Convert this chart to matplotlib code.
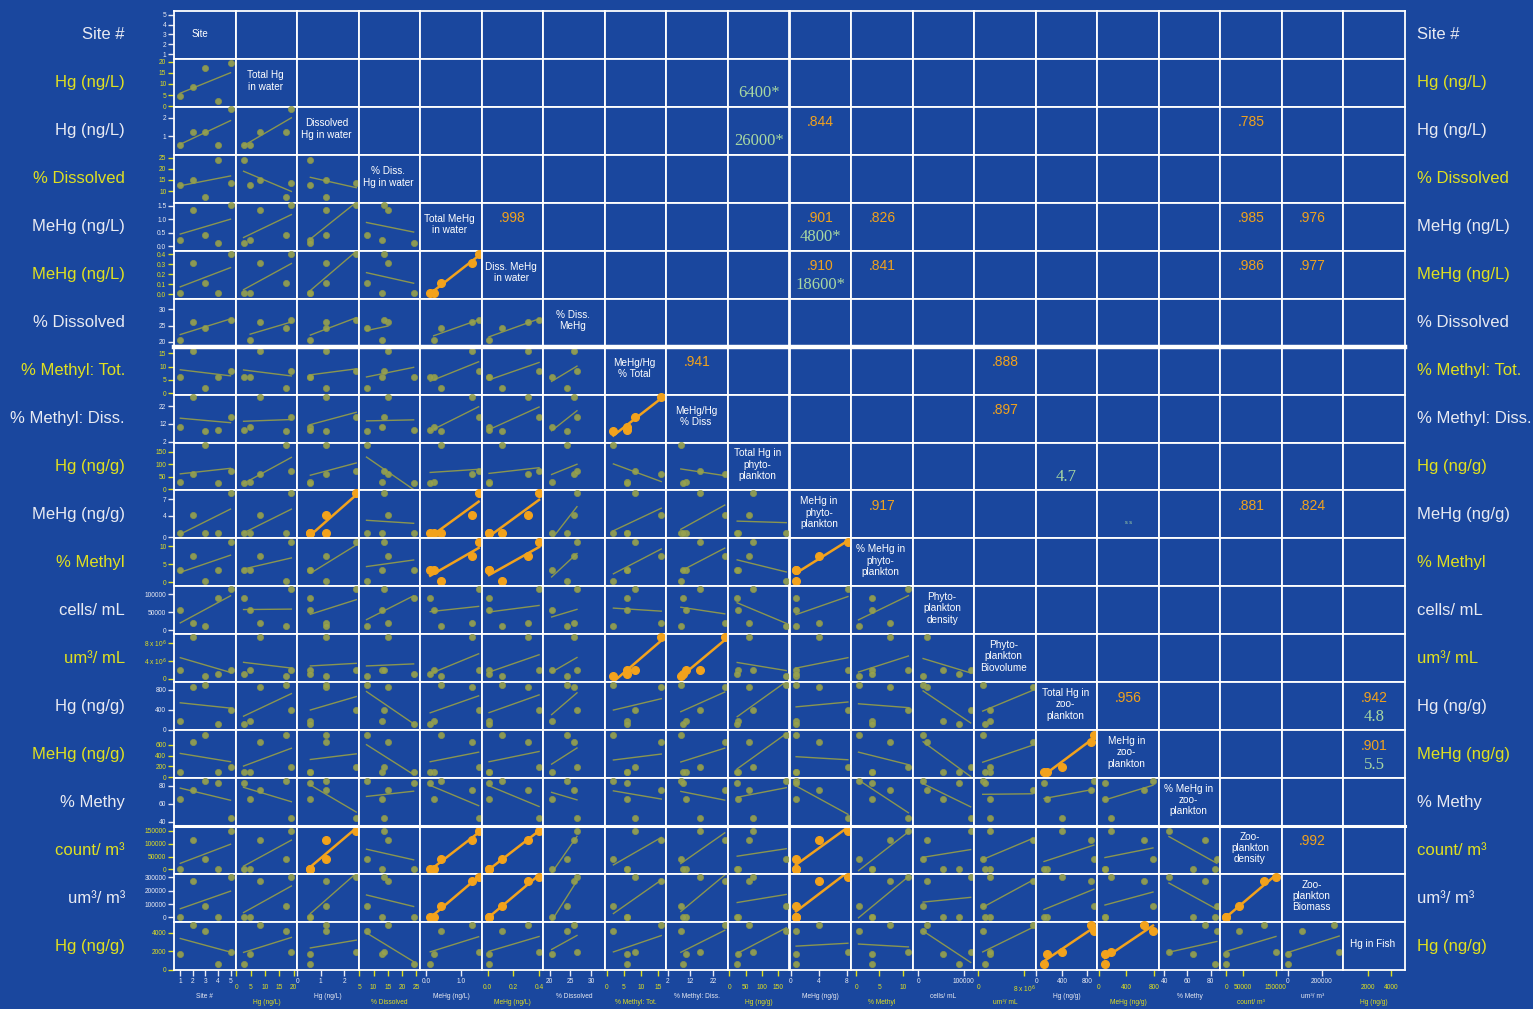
import matplotlib
matplotlib.use('Agg')

import numpy as np
import matplotlib.pyplot as plt
from matplotlib.lines import Line2D

plt.rcParams['font.family'] = ['Liberation Sans', 'DejaVu Sans']

site = [1, 2, 3, 4, 5]
hg_tot = [4.8, 8.4, 17.3, 2.5, 19.2]
hg_diss = [0.56, 1.24, 1.22, 0.56, 2.5]
pct_diss_hg = [12.8, 15.0, 7.5, 24.0, 13.8]
mehg_tot = [0.22, 1.34, 0.43, 0.12, 1.52]
mehg_diss = [0.01, 0.31, 0.11, 0.01, 0.40]
pct_diss_mehg = [20.5, 26.0, 24.3, np.nan, 26.6]
pct_meth_tot = [6.1, 16.0, 2.0, 6.1, 8.2]
pct_meth_diss = [10.0, 27.0, 7.8, 8.7, 16.0]
hg_phyto = [28, 61, 176, 24, 74]
mehg_phyto = [0.75, 4.1, 0.75, 0.75, 8.2]
pct_meth_phyto = [3.4, 7.2, 0.5, 3.4, 11.2]
phyto_density = [55000, 20000, 11000, 90000, 115000]
phyto_biovol = [2.1e6, 9.5e6, 0.75e6, 1.2e6, 2.1e6]
hg_zoo = [167, 853, 900, 120, 400]
mehg_zoo = [93, 660, 784, 93, 185]
pct_meth_zoo = [65, 75.5, 85.5, 83.7, 44]
zoo_density = [0, 115000, 39000, 0, 150000]
zoo_biomass = [0, 270000, 85000, 0, 300000]
hg_fish = [1650, 4800, 4200, 600, 1900]

data = [site, hg_tot, hg_diss, pct_diss_hg, mehg_tot, mehg_diss, pct_diss_mehg,
        pct_meth_tot, pct_meth_diss, hg_phyto, mehg_phyto, pct_meth_phyto,
        phyto_density, phyto_biovol, hg_zoo, mehg_zoo, pct_meth_zoo,
        zoo_density, zoo_biomass, hg_fish]

units = ['Site #', 'Hg (ng/L)', 'Hg (ng/L)', '% Dissolved', 'MeHg (ng/L)', 'MeHg (ng/L)',
         '% Dissolved', '% Methyl: Tot.', '% Methyl: Diss.', 'Hg (ng/g)', 'MeHg (ng/g)',
         '% Methyl', 'cells/ mL', 'um³/ mL', 'Hg (ng/g)', 'MeHg (ng/g)', '% Methy',
         'count/ m³', 'um³/ m³', 'Hg (ng/g)']

diag_names = ['Site', 'Total Hg\nin water', 'Dissolved\nHg in water', '% Diss.\nHg in water',
              'Total MeHg\nin water', 'Diss. MeHg\nin water', '% Diss.\nMeHg',
              'MeHg/Hg\n% Total', 'MeHg/Hg\n% Diss', 'Total Hg in\nphyto-\nplankton',
              'MeHg in\nphyto-\nplankton', '% MeHg in\nphyto-\nplankton',
              'Phyto-\nplankton\ndensity', 'Phyto-\nplankton\nBiovolume',
              'Total Hg in\nzoo-\nplankton', 'MeHg in\nzoo-\nplankton',
              '% MeHg in\nzoo-\nplankton', 'Zoo-\nplankton\ndensity',
              'Zoo-\nplankton\nBiomass', 'Hg in Fish']

lims = [(0.5, 5.4), (-0.3, 21.2), (0, 2.6), (4.75, 26.3), (-0.17, 1.61), (-0.047, 0.433),
        (18.5, 33.3), (-0.5, 17.5), (1.5, 28.4), (-4.6, 186), (-0.2, 8.65), (-1.1, 12.1),
        (-12000, 122600), (-0.75e6, 10.04e6), (-10, 953), (-18, 868), (35.2, 88.5),
        (-18000, 168000), (-35000, 325000), (-50, 5150)]

yticks = [[1, 2, 3, 4, 5], [0, 5, 10, 15, 20], [1, 2], [10, 15, 20, 25], [0, 0.5, 1.0, 1.5],
          [0, 0.1, 0.2, 0.3, 0.4], [20, 25, 30], [0, 5, 10, 15], [2, 12, 22], [0, 50, 100, 150],
          [0, 4, 7], [0, 5, 10], [0, 50000, 100000], [0, 4e6, 8e6], [0, 400, 800],
          [0, 200, 400, 600], [40, 60, 80], [0, 50000, 100000, 150000],
          [0, 100000, 200000, 300000], [0, 2000, 4000]]
ytick_labels = [['1', '2', '3', '4', '5'], ['0', '5', '10', '15', '20'], ['1', '2'],
                ['10', '15', '20', '25'], ['0.0', '0.5', '1.0', '1.5'],
                ['0.0', '0.1', '0.2', '0.3', '0.4'], ['20', '25', '30'], ['0', '5', '10', '15'],
                ['2', '12', '22'], ['0', '50', '100', '150'], ['0', '4', '7'], ['0', '5', '10'],
                ['0', '50000', '100000'], ['0', '4 x 10$^6$', '8 x 10$^6$'],
                ['0', '400', '800'], ['0', '200', '400', '600'], ['40', '60', '80'],
                ['0', '50000', '100000', '150000'], ['0', '100000', '200000', '300000'],
                ['0', '2000', '4000']]
xticks = [[1, 2, 3, 4, 5], [0, 5, 10, 15, 20], [0, 1, 2], [5, 10, 15, 20, 25], [0, 1.0],
          [0, 0.2, 0.4], [20, 25, 30], [0, 5, 10, 15], [2, 12, 22], [0, 50, 100, 150],
          [0, 4, 8], [0, 5, 10], [0, 100000], [0, 8e6], [0, 400, 800], [0, 400, 800],
          [40, 60, 80], [0, 50000, 150000], [0, 200000], [2000, 4000]]
xtick_labels = [['1', '2', '3', '4', '5'], ['0', '5', '10', '15', '20'], ['0', '1', '2'],
                ['5', '10', '15', '20', '25'], ['0.0', '1.0'], ['0.0', '0.2', '0.4'],
                ['20', '25', '30'], ['0', '5', '10', '15'], ['2', '12', '22'],
                ['0', '50', '100', '150'], ['0', '4', '8'], ['0', '5', '10'],
                ['0', '100000'], ['0', '8 x 10$^6$'], ['0', '400', '800'], ['0', '400', '800'],
                ['40', '60', '80'], ['0', '50000', '150000'], ['0', '200000'],
                ['2000', '4000']]

# significant pairs (row, col) drawn in orange
highlight = [(5, 4), (8, 7), (10, 2), (10, 4), (10, 5), (11, 4), (11, 5), (11, 10),
             (13, 7), (13, 8), (15, 14), (17, 2), (17, 4), (17, 5), (17, 10),
             (18, 4), (18, 5), (18, 10), (18, 17), (19, 14), (19, 15)]

# upper triangle: (row, col) -> (correlation, ratio note)
corr_text = {(1, 9): (None, '6400*'), (2, 9): (None, '26000*'), (2, 10): ('.844', None),
             (2, 17): ('.785', None), (4, 5): ('.998', None), (4, 10): ('.901', '4800*'),
             (4, 11): ('.826', None), (4, 17): ('.985', None), (4, 18): ('.976', None),
             (5, 10): ('.910', '18600*'), (5, 11): ('.841', None), (5, 17): ('.986', None),
             (5, 18): ('.977', None), (7, 8): ('.941', None), (7, 13): ('.888', None),
             (8, 13): ('.897', None), (9, 14): (None, '4.7'), (10, 11): ('.917', None),
             (10, 17): ('.881', None), (10, 18): ('.824', None), (14, 15): ('.956', None),
             (14, 19): ('.942', '4.8'), (15, 19): ('.901', '5.5'), (17, 18): ('.992', None)}

BG = '#1a479e'
YEL = '#e0e020'
WHT = '#e8eaf2'
ORG = '#f2a21c'
GRN = '#a8d8a2'
PT = '#98a34e'
LN = '#8a9650'

W, H = 1533, 1009
x0, x1, y0, y1 = 174, 1405, 11, 970
n = len(data)
cw = (x1 - x0) / n
ch = (y1 - y0) / n

fig = plt.figure(figsize=(W / 100, H / 100), dpi=100, facecolor=BG)

for r in range(n):
    for k in range(n):
        ax = fig.add_axes([(x0 + k * cw) / W, 1 - (y0 + (r + 1) * ch) / H, cw / W, ch / H])
        ax.set_facecolor(BG)
        for s in ax.spines.values():
            s.set_color('white')
            s.set_linewidth(1.3)
        ax.set_xlim(lims[k])
        ax.set_ylim(lims[r])
        ax.set_xticks([])
        ax.set_yticks([])

        if r == k:
            if r == 0:
                ax.text(0.42, 0.52, diag_names[r], transform=ax.transAxes, color='white',
                        fontsize=7, ha='center', va='center')
            else:
                ax.text(0.48, 0.54, diag_names[r], transform=ax.transAxes, color='white',
                        fontsize=7.2, ha='center', va='center', linespacing=1.15)
        elif r > k:
            xs = np.array(data[k], dtype=float)
            ys = np.array(data[r], dtype=float)
            ok = ~np.isnan(xs) & ~np.isnan(ys)
            xs, ys = xs[ok], ys[ok]
            hot = (r, k) in highlight
            m, b = np.polyfit(xs, ys, 1)
            lx = np.array([xs.min(), xs.max()])
            if hot:
                ax.plot(lx, m * lx + b, color=ORG, lw=1.8, zorder=2)
                ax.plot(xs, ys, 'o', color=ORG, ms=5.5, mec=ORG, zorder=3, clip_on=False)
            else:
                ax.plot(lx, m * lx + b, color=LN, lw=1.0, zorder=2)
                ax.plot(xs, ys, 'o', color=PT, ms=4.5, mec='#8a9648', mew=0.5,
                        alpha=0.9, zorder=3, clip_on=False)
        else:
            if (r, k) in corr_text:
                c, g = corr_text[(r, k)]
                if c:
                    ax.text(0.5, 0.68, c, transform=ax.transAxes, color=ORG,
                            fontsize=10, ha='center', va='center')
                if g:
                    ax.text(0.5, 0.28, g, transform=ax.transAxes, color=GRN,
                            fontsize=12, ha='center', va='center',
                            family=['Liberation Serif', 'DejaVu Serif'])
            if (r, k) == (10, 15):
                ax.text(0.5, 0.34, 's s', transform=ax.transAxes, color=GRN,
                        fontsize=4, ha='center', va='center')

        tc = WHT if r % 2 == 0 else YEL
        if k == 0:
            ax.set_yticks(yticks[r])
            ax.set_yticklabels(ytick_labels[r])
            ax.tick_params(axis='y', left=True, length=4, width=1, color=tc,
                           labelcolor=tc, labelsize=4.8, pad=1.5)
        if r == n - 1:
            xc = WHT if k % 2 == 0 else YEL
            ax.set_xticks(xticks[k])
            ax.set_xticklabels(xtick_labels[k])
            ax.tick_params(axis='x', bottom=True, length=4, width=1, color=xc,
                           labelcolor=xc, labelsize=4.8, pad=1.5 if k % 2 == 0 else 6)
            fig.text((x0 + (k + 0.5) * cw) / W, 1 - (997 if k % 2 == 0 else 1003) / H,
                     units[k], color=xc, fontsize=4.8, ha='center', va='center')

# row labels both sides
for r in range(n):
    col = WHT if r % 2 == 0 else YEL
    yc = 1 - (y0 + (r + 0.5) * ch) / H
    fig.text(125 / W, yc, units[r], color=col, fontsize=12, ha='right', va='center')
    fig.text(1417 / W, yc, units[r], color=col, fontsize=12, ha='left', va='center')

# heavier separators between groups
for yy, lw in [(y0 + 7 * ch, 3.2), (y0 + 17 * ch, 2.2)]:
    fig.add_artist(Line2D([x0 / W, x1 / W], [1 - yy / H, 1 - yy / H],
                          color='white', lw=lw, transform=fig.transFigure))

plt.savefig('out.png', dpi=100, facecolor=BG)
plt.close(fig)
